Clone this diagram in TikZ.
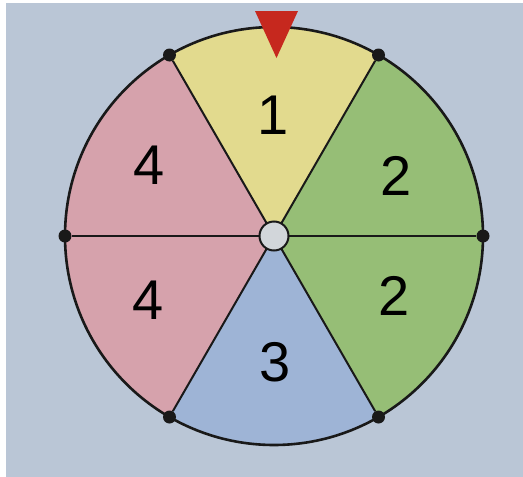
\documentclass[tikz,border=0pt]{standalone}
\usepackage{fontspec}
\setmainfont{Liberation Sans}
\usepackage{tikz}
\usetikzlibrary{positioning}
\definecolor{paperblue}{RGB}{186, 198, 214}
\definecolor{sectoryellow}{RGB}{226, 218, 142}
\definecolor{sectorgreen}{RGB}{150, 190, 118}
\definecolor{sectorblue}{RGB}{158, 180, 214}
\definecolor{sectorpink}{RGB}{214, 162, 172}
\definecolor{pointerred}{RGB}{198, 40, 30}
\definecolor{hubgrey}{RGB}{210, 214, 218}

\begin{document}
\begin{tikzpicture}[x=1pt, y=1pt,
    rim/.style={draw=black!90, line width=2.6pt},
    spoke/.style={draw=black!90, line width=2pt},
    pin/.style={circle, fill=black!90, inner sep=0pt, minimum size=13pt},
    hub/.style={circle, draw=black!90, line width=2pt, fill=hubgrey,
                inner sep=0pt, minimum size=29pt},
    digit/.style={inner sep=0pt, font=\fontsize{56}{56}\selectfont}
]
    \useasboundingbox (0,0) rectangle (523,-477);
    \fill[white] (0,0) rectangle (523,-477);
    \fill[paperblue] (6,-3) rectangle (523,-477);

    \coordinate (c) at (274,-236);

    % sectors
    \foreach \a/\col in {0/sectorgreen, 60/sectoryellow, 120/sectorpink,
                         180/sectorpink, 240/sectorblue, 300/sectorgreen}
        \fill[\col] (c) -- ++(\a:209) arc[start angle=\a, delta angle=60, radius=209] -- cycle;

    % rim pins
    \foreach \a [count=\i] in {0,60,...,300}
        \path (c) ++(\a:209) node[pin] (p\i) {};

    \foreach \i in {1,...,6}
        \draw[spoke] (c) -- (p\i);
    \draw[rim] (c) circle[radius=209];

    \node[hub] (h) at (c) {};

    % pointer
    \fill[pointerred] (255,-11) -- (298,-11) -- (276.5,-58) -- cycle;

    \node[digit] (n1) at (273,-115) {1};
    \node[digit] (n2a) at (396,-176) {2};
    \node[digit] (n2b) at (394,-296) {2};
    \node[digit] (n3) at (275,-362) {3};
    \node[digit] (n4a) at (149,-165) {4};
    \node[digit] (n4b) at (148,-300) {4};
\end{tikzpicture}
\end{document}
